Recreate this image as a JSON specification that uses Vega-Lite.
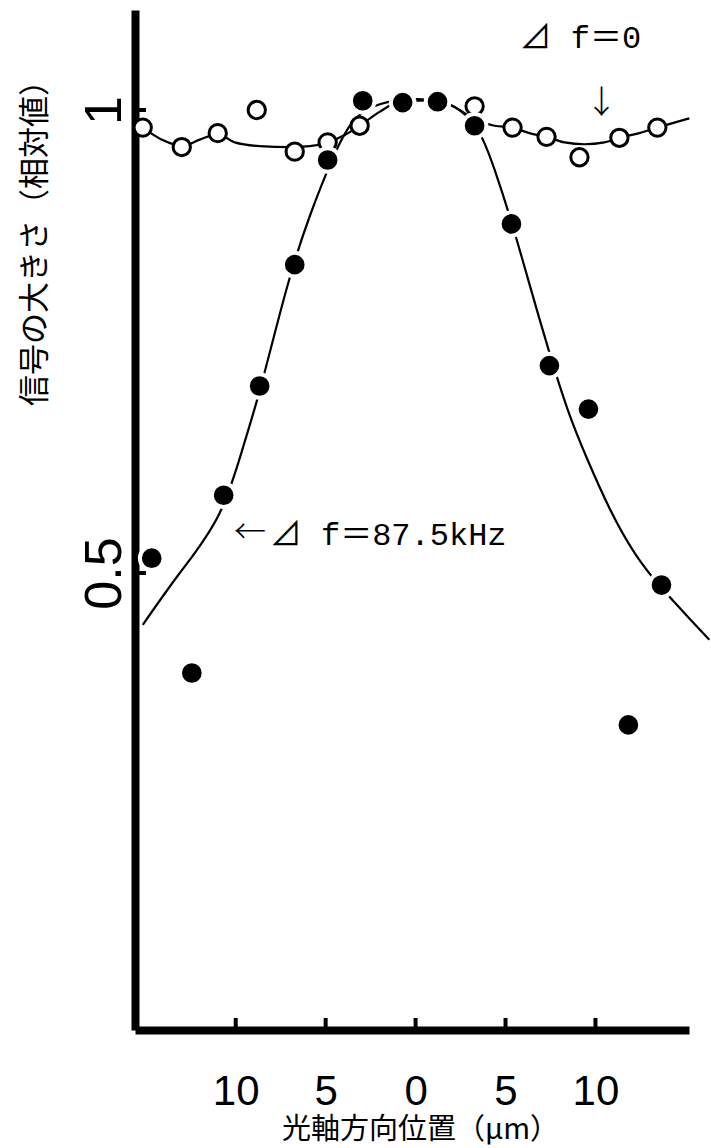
{
  "$schema": "https://vega.github.io/schema/vega-lite/v6.json",
  "width": 554,
  "height": 1020,
  "autosize": "none",
  "padding": {"left": 135, "top": 10, "right": 22, "bottom": 118},
  "background": "white",
  "config": {"view": {"stroke": null}},
  "datasets": {
    "measured": [
      {"series": "87.5kHz", "x": -14.67, "y": 0.516},
      {"series": "87.5kHz", "x": -12.44, "y": 0.392},
      {"series": "87.5kHz", "x": -10.67, "y": 0.584},
      {"series": "87.5kHz", "x": -8.67, "y": 0.702},
      {"series": "87.5kHz", "x": -6.72, "y": 0.833},
      {"series": "87.5kHz", "x": -4.89, "y": 0.946},
      {"series": "87.5kHz", "x": -2.94, "y": 1.01},
      {"series": "87.5kHz", "x": -0.72, "y": 1.008},
      {"series": "87.5kHz", "x": 1.22, "y": 1.009},
      {"series": "87.5kHz", "x": 3.28, "y": 0.983},
      {"series": "87.5kHz", "x": 5.33, "y": 0.877},
      {"series": "87.5kHz", "x": 7.44, "y": 0.724},
      {"series": "87.5kHz", "x": 9.61, "y": 0.677},
      {"series": "87.5kHz", "x": 11.83, "y": 0.336},
      {"series": "87.5kHz", "x": 13.67, "y": 0.487},
      {"series": "0", "x": -15.17, "y": 0.981},
      {"series": "0", "x": -13.0, "y": 0.96},
      {"series": "0", "x": -11.0, "y": 0.975},
      {"series": "0", "x": -8.83, "y": 1.0},
      {"series": "0", "x": -6.72, "y": 0.955},
      {"series": "0", "x": -4.89, "y": 0.965},
      {"series": "0", "x": -3.11, "y": 0.983},
      {"series": "0", "x": 3.28, "y": 1.004},
      {"series": "0", "x": 5.39, "y": 0.981},
      {"series": "0", "x": 7.28, "y": 0.971},
      {"series": "0", "x": 9.11, "y": 0.949},
      {"series": "0", "x": 11.33, "y": 0.97},
      {"series": "0", "x": 13.44, "y": 0.981}
    ],
    "curve875": [
      {"x": -15.17, "y": 0.444},
      {"x": -13.11, "y": 0.5},
      {"x": -10.94, "y": 0.563},
      {"x": -9.56, "y": 0.638},
      {"x": -8.61, "y": 0.701},
      {"x": -7.17, "y": 0.807},
      {"x": -5.89, "y": 0.885},
      {"x": -4.6, "y": 0.948},
      {"x": -3.5, "y": 0.987},
      {"x": -2.3, "y": 1.004},
      {"x": -0.72, "y": 1.011},
      {"x": 1.22, "y": 1.01},
      {"x": 2.44, "y": 1.0},
      {"x": 3.5, "y": 0.977},
      {"x": 4.4, "y": 0.935},
      {"x": 5.33, "y": 0.879},
      {"x": 6.33, "y": 0.812},
      {"x": 7.44, "y": 0.738},
      {"x": 8.5, "y": 0.674},
      {"x": 9.5, "y": 0.625},
      {"x": 10.78, "y": 0.57},
      {"x": 12.2, "y": 0.521},
      {"x": 13.67, "y": 0.484},
      {"x": 15.22, "y": 0.451},
      {"x": 16.33, "y": 0.428}
    ],
    "curve0": [
      {"x": -15.17, "y": 0.981},
      {"x": -14.11, "y": 0.968},
      {"x": -13.0, "y": 0.961},
      {"x": -12.0, "y": 0.968},
      {"x": -11.0, "y": 0.974},
      {"x": -10.06, "y": 0.965},
      {"x": -8.67, "y": 0.961},
      {"x": -7.0, "y": 0.96},
      {"x": -5.89, "y": 0.961},
      {"x": -4.89, "y": 0.965},
      {"x": -3.94, "y": 0.973},
      {"x": -3.11, "y": 0.983},
      {"x": -2.0, "y": 0.998},
      {"x": -0.72, "y": 1.01},
      {"x": 1.22, "y": 1.01},
      {"x": 2.44, "y": 1.0},
      {"x": 3.28, "y": 0.99},
      {"x": 4.39, "y": 0.983},
      {"x": 5.39, "y": 0.981},
      {"x": 6.33, "y": 0.975},
      {"x": 7.28, "y": 0.971},
      {"x": 8.28, "y": 0.965},
      {"x": 9.39, "y": 0.963},
      {"x": 10.5, "y": 0.965},
      {"x": 11.33, "y": 0.97},
      {"x": 12.44, "y": 0.975},
      {"x": 13.44, "y": 0.981},
      {"x": 15.22, "y": 0.991}
    ],
    "xTicks": [{"x": -10}, {"x": -5}, {"x": 0}, {"x": 5}, {"x": 10}],
    "yTicks": [{"y": 0.5}, {"y": 1}],
    "notes": [
      {"x": 5.78, "y": 1.078, "label": "⊿ f＝0"},
      {"x": -8.11, "y": 0.541, "label": "⊿ f＝87.5kHz"}
    ],
    "pointers": [
      {"x": 10.33, "y": 1.008, "label": "↓"},
      {"x": -9.2, "y": 0.543, "label": "←"}
    ]
  },
  "layer": [
    {
      "data": {"name": "curve875"},
      "mark": {"type": "line", "color": "black", "strokeWidth": 2.2, "interpolate": "natural", "clip": false},
      "encoding": {
        "x": {
          "field": "x",
          "type": "quantitative",
          "scale": {"domain": [-15.6, 15.2], "nice": false, "zero": false},
          "axis": {
            "values": [-10, -5, 0, 5, 10],
            "labelExpr": "abs(datum.value)",
            "grid": false,
            "ticks": false,
            "tickSize": 0,
            "domainColor": "black",
            "domainWidth": 8,
            "labelFont": "Liberation Sans",
            "labelFontSize": 42,
            "labelColor": "black",
            "labelPadding": 74,
            "labelBaseline": "alphabetic",
            "title": "光軸方向位置（μm）",
            "titleFont": "Noto Sans CJK JP",
            "titleFontSize": 29,
            "titleFontWeight": "normal",
            "titleColor": "black",
            "titleX": 285,
            "titleY": 99,
            "titleAlign": "center",
            "titleBaseline": "middle"
          }
        },
        "y": {
          "field": "y",
          "type": "quantitative",
          "scale": {"domain": [0.0065, 1.108], "nice": false, "zero": false},
          "axis": {
            "values": [0.5, 1],
            "labelExpr": "datum.value == 1 ? '1' : '0.5'",
            "grid": false,
            "ticks": false,
            "tickSize": 0,
            "domainColor": "black",
            "domainWidth": 8,
            "labelFont": "Liberation Sans",
            "labelFontSize": 52,
            "labelColor": "black",
            "labelAngle": -90,
            "labelAlign": "center",
            "labelBaseline": "alphabetic",
            "labelPadding": 15,
            "title": "信号の大きさ（相対値）",
            "titleFont": "Noto Sans CJK JP",
            "titleFontSize": 31,
            "titleFontWeight": "normal",
            "titleColor": "black",
            "titleAngle": 270,
            "titleX": -100,
            "titleY": 225,
            "titleAlign": "center",
            "titleBaseline": "middle"
          }
        }
      }
    },
    {
      "data": {"name": "xTicks"},
      "mark": {"type": "rule", "color": "black", "strokeWidth": 4},
      "encoding": {
        "x": {"field": "x", "type": "quantitative"},
        "y": {"datum": 0.0065},
        "y2": {"datum": 0.0195}
      }
    },
    {
      "data": {"name": "yTicks"},
      "mark": {"type": "rule", "color": "black", "strokeWidth": 4},
      "encoding": {
        "y": {"field": "y", "type": "quantitative"},
        "x": {"datum": -15.6},
        "x2": {"datum": -14.99}
      }
    },
    {
      "data": {"name": "curve0"},
      "mark": {"type": "line", "color": "black", "strokeWidth": 2.2, "interpolate": "monotone", "clip": false},
      "encoding": {
        "x": {"field": "x", "type": "quantitative"},
        "y": {"field": "y", "type": "quantitative"}
      }
    },
    {
      "data": {"name": "measured"},
      "transform": [{"filter": "datum.series == '0'"}],
      "mark": {"type": "point", "shape": "circle", "filled": true, "fill": "white", "stroke": "black", "strokeWidth": 3, "size": 300, "opacity": 1},
      "encoding": {
        "x": {"field": "x", "type": "quantitative"},
        "y": {"field": "y", "type": "quantitative"}
      }
    },
    {
      "data": {"name": "measured"},
      "transform": [{"filter": "datum.series == '87.5kHz'"}],
      "mark": {"type": "point", "shape": "circle", "filled": true, "fill": "black", "stroke": "white", "strokeWidth": 4, "size": 560, "opacity": 1},
      "encoding": {
        "x": {"field": "x", "type": "quantitative"},
        "y": {"field": "y", "type": "quantitative"}
      }
    },
    {
      "data": {"name": "notes"},
      "mark": {"type": "text", "align": "left", "baseline": "middle", "font": "Liberation Mono, Noto Sans CJK JP", "fontSize": 32, "color": "black"},
      "encoding": {
        "x": {"field": "x", "type": "quantitative"},
        "y": {"field": "y", "type": "quantitative"},
        "text": {"field": "label"}
      }
    },
    {
      "data": {"name": "pointers"},
      "mark": {"type": "text", "align": "center", "baseline": "middle", "font": "Noto Sans CJK JP", "fontSize": 32, "fontWeight": 300, "color": "black"},
      "encoding": {
        "x": {"field": "x", "type": "quantitative"},
        "y": {"field": "y", "type": "quantitative"},
        "text": {"field": "label"}
      }
    }
  ]
}
